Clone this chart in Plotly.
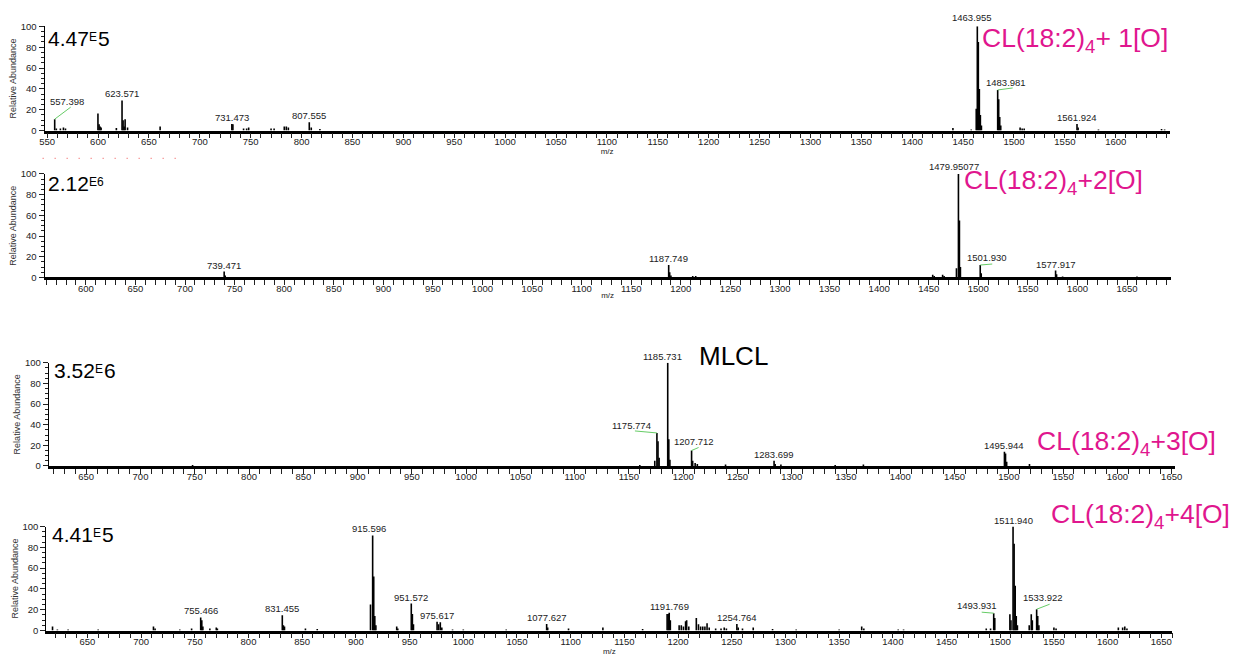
import plotly.graph_objects as go

W, H = 1249, 668

# ---------------- data (m/z, relative abundance) ----------------
p1_mz = [557.4, 559.0, 563.0, 566.0, 568.0, 599.9, 601.0, 602.0, 603.0, 618.0,
         623.57, 624.6, 625.6, 626.6, 629.0, 661.0, 731.47, 732.5, 743.0, 746.0,
         748.0, 770.0, 773.0, 783.0, 785.0, 787.0, 807.56, 809.5, 818.0, 1440.0,
         1458.0, 1462.9, 1463.96, 1464.96, 1465.96, 1466.96, 1468.0, 1483.98, 1484.98, 1485.98,
         1487.0, 1506.0, 1508.0, 1510.0, 1561.92, 1563.0, 1583.0, 1645.0, 1648.0]
p1_int = [11, 2, 2, 3, 2, 16.5, 6, 4, 3, 2.5,
          29, 10, 4, 11, 3, 4, 6.3, 6, 2, 2,
          3, 2, 2, 4, 4, 3, 8, 3, 1.5, 2.5,
          1, 21, 100, 85, 40, 15, 5, 39, 30, 13,
          5, 3, 2, 2, 6.3, 3, 1, 1.5, 1]
p1_labels = ["557.398", "623.571", "731.473", "807.555", "1463.955", "1483.981", "1561.924"]
p1_label_mz = [557.4, 623.57, 731.47, 807.56, 1463.96, 1483.98, 1561.92]

p2_mz = [739.47, 740.5, 1187.75, 1188.75, 1190.0, 1212.0, 1215.0, 1454.0, 1455.5, 1464.0,
         1465.5, 1477.95, 1479.95, 1480.95, 1481.95, 1501.93, 1502.93, 1577.92, 1578.92, 1585.0,
         1660.0]
p2_int = [5.7, 2, 12, 5, 2, 1.5, 1.5, 2.5, 1.5, 2.5,
          1.5, 9, 100, 55, 10, 12, 4, 6.6, 3, 1,
          1]
p2_labels = ["739.471", "1187.749", "1479.95077", "1501.930", "1577.917"]
p2_label_mz = [739.47, 1187.75, 1479.95, 1501.93, 1577.92]

p3_mz = [748.0, 1160.0, 1173.8, 1175.77, 1176.77, 1177.8, 1185.73, 1186.73, 1187.73, 1207.71,
         1208.71, 1211.0, 1213.0, 1239.0, 1283.70, 1284.7, 1290.0, 1340.0, 1366.0, 1495.94,
         1496.94, 1498.0, 1519.0]
p3_int = [1, 1, 5, 32, 24, 8, 100, 26, 6, 15,
          5, 3, 2, 1.5, 5, 2, 1.5, 1, 1.5, 13.7,
          12, 4, 2]
p3_labels = ["1175.774", "1185.731", "1207.712", "1283.699", "1495.944"]
p3_label_mz = [1175.77, 1185.73, 1207.71, 1283.70, 1495.94]

p4_mz = [617.5, 622.0, 632.0, 660.0, 711.5, 713.0, 736.0, 747.0, 755.47, 756.5,
         757.5, 764.0, 770.0, 771.0, 831.46, 832.5, 833.5, 853.0, 864.0, 913.6,
         915.6, 916.6, 917.6, 918.6, 938.0, 939.0, 951.57, 952.6, 953.6, 975.6,
         977.0, 978.6, 980.0, 990.0, 1000.0, 1040.0, 1077.63, 1078.6, 1098.0, 1130.0,
         1167.0, 1189.8, 1190.8, 1191.77, 1192.8, 1201.0, 1203.0, 1205.0, 1207.0, 1208.0,
         1210.0, 1217.0, 1219.0, 1221.0, 1223.0, 1225.0, 1227.0, 1229.0, 1235.0, 1240.0,
         1243.0, 1245.0, 1254.76, 1256.0, 1260.0, 1270.0, 1288.0, 1310.0, 1350.0, 1371.0,
         1373.0, 1405.0, 1410.0, 1487.0, 1491.0, 1493.93, 1494.93, 1509.0, 1510.0, 1511.94,
         1512.94, 1513.94, 1514.94, 1516.0, 1527.0, 1528.9, 1529.9, 1533.92, 1534.92, 1536.0,
         1550.0, 1552.0, 1610.0, 1614.0, 1616.0, 1618.0]
p4_int = [4, 1, 1, 1, 4, 2, 1, 2, 12.6, 10,
          4, 2, 3, 2, 14.8, 5, 4, 2, 1.5, 25,
          91.5, 52, 14, 5, 4, 2, 26, 16, 6, 8.5,
          6, 8, 3, 1, 1, 1, 6.3, 3, 2, 3,
          1.5, 16, 16, 17, 10, 5, 5, 4, 9, 10,
          4, 12, 6, 4, 4, 4, 7, 3, 2, 2,
          3, 2, 6.3, 3, 2, 3, 1.5, 1, 1, 4,
          2, 1, 1, 2, 2, 16.7, 12, 15.7, 10, 100,
          83.5, 43, 14, 5, 5, 15.7, 10, 20.5, 14, 5,
          3, 2, 3, 3, 4, 2]
p4_labels = ["755.466", "831.455", "915.596", "951.572", "975.617", "1077.627",
             "1191.769", "1254.764", "1493.931", "1511.940", "1533.922"]
p4_label_mz = [755.47, 831.46, 915.6, 951.57, 975.6, 1077.63,
               1191.77, 1254.76, 1493.93, 1511.94, 1533.92]

# normalisation levels: mantissa, small "E" part, trailing exponent part
scale_mantissa = ["4.47", "2.12", "3.52", "4.41"]
scale_small = ["E", "E6", "E", "E"]
scale_big = ["5", "", "6", "5"]
species_labels = ["CL(18:2)<sub>4</sub>+ 1[O]", "CL(18:2)<sub>4</sub>+2[O]",
                  "CL(18:2)<sub>4</sub>+3[O]", "CL(18:2)<sub>4</sub>+4[O]"]
x_tick_values = [list(range(550, 1601, 50)), list(range(600, 1651, 50)),
                 list(range(650, 1651, 50)), list(range(650, 1651, 50))]
y_tick_values = [0, 20, 40, 60, 80, 100]

for a, b in [(p1_mz, p1_int), (p2_mz, p2_int), (p3_mz, p3_int), (p4_mz, p4_int)]:
    assert len(a) == len(b)

# ---------------- layout / style ----------------
FONT = "Liberation Sans, Arial, Helvetica, sans-serif"
MAGENTA = "#E0168E"
GREEN = "#66CC66"

# pixel geometry per panel: x_left, x_right, y_top(100), y_bottom(0), x range
panels = [
    dict(xl=40, xr=1176, yt=20.7, yb=126.7, rng=[547.5, 1653], title=True),
    dict(xl=40, xr=1177, yt=170.7, yb=276, rng=[558.4, 1694], title=True),
    dict(xl=44.3, xr=1181.6, yt=362.7, yb=467.7, rng=[615.6, 1653.3], title=False),
    dict(xl=41.7, xr=1178.8, yt=529.3, yb=635, rng=[611.7, 1660.4], title=True),
]
data_sets = [(p1_mz, p1_int, p1_labels, p1_label_mz),
             (p2_mz, p2_int, p2_labels, p2_label_mz),
             (p3_mz, p3_int, p3_labels, p3_label_mz),
             (p4_mz, p4_int, p4_labels, p4_label_mz)]

label_shift = {
    "557.398": (12, 11), "1483.981": (8, 1), "1501.930": (7, 1),
    "1175.774": (-25, 1), "1207.712": (2, 3), "1493.931": (-17, 1),
    "1533.922": (6, 5), "915.596": (-4, 0), "1185.731": (-5, 0),
    "1463.955": (-5, 2), "1479.95077": (-4, 1),
}
green_lines = {
    "557.398": (16, 12), "1483.981": (15, 2), "1501.930": (12, 1),
    "1175.774": (-22, 2), "1207.712": (7, 3), "1493.931": (-12, 1),
    "1533.922": (13, 5),
}

# left edge and cap-top (px) of the normalisation level text
scale_pos = [(43, 27), (43, 175), (49.5, 365), (47, 531.7)]
species_pos = [(985, 27.5), (967, 171.7), (1041, 436.7), (1055, 511.7)]

BIG, SMALL = 21, 12
CHAR_W = {"E": 0.667, ".": 0.278}


def text_w(s, fs):
    return sum(CHAR_W.get(c, 0.556) for c in s) * fs


def px_x(p):
    return p / W


def px_y(p):
    return 1 - p / H


def peak_height(mz_list, int_list, m):
    best = 0
    for a, b in zip(mz_list, int_list):
        if abs(a - m) < 0.6:
            best = max(best, b)
    return best


def text_ann(left, cap_top, text, fs, color):
    return dict(x=px_x(left), y=px_y(cap_top - 0.28 * fs), xref="paper", yref="paper",
                text=text, showarrow=False, xanchor="left", yanchor="top",
                font=dict(family=FONT, size=fs, color=color), borderpad=0, borderwidth=0)


fig = go.Figure()
annotations = []
shapes = []

for i, (pan, (mz, inten, labs, lab_mz)) in enumerate(zip(panels, data_sets)):
    n = "" if i == 0 else str(i + 1)
    xs, ys = [], []
    for m, h in zip(mz, inten):
        xs += [m, m, None]
        ys += [0, h, None]
    fig.add_trace(go.Scatter(x=xs, y=ys, mode="lines",
                             line=dict(color="black", width=1.6),
                             xaxis="x" + n, yaxis="y" + n,
                             showlegend=False, hoverinfo="skip"))

    tickfont = dict(family=FONT, size=9.5, color="#222")
    fig.update_layout(**{
        "xaxis" + n: dict(
            domain=[px_x(pan["xl"]), px_x(pan["xr"])],
            anchor="y" + n, range=pan["rng"],
            showline=True, linecolor="black", linewidth=2.5,
            ticks="outside", ticklen=5, tickwidth=1, tickcolor="#222",
            tickmode="array", tickvals=x_tick_values[i], tickfont=tickfont,
            ticklabelstandoff=-5,
            minor=dict(dtick=10, tick0=0, ticks="outside", ticklen=5,
                       tickwidth=1, tickcolor="#222"),
            showgrid=False, zeroline=False, fixedrange=True,
            title=dict(text="m/z" if pan["title"] else "",
                       font=dict(family=FONT, size=8, color="#222"), standoff=0),
        ),
        "yaxis" + n: dict(
            domain=[px_y(pan["yb"]), px_y(pan["yt"])],
            anchor="x" + n, range=[0, 100],
            showline=True, linecolor="black", linewidth=1.2,
            ticks="outside", ticklen=5, tickwidth=1, tickcolor="#222",
            tickmode="array", tickvals=y_tick_values, tickfont=tickfont,
            minor=dict(dtick=5, tick0=0, ticks="outside", ticklen=3,
                       tickwidth=1, tickcolor="#222"),
            showgrid=False, zeroline=False, fixedrange=True,
            title=dict(text="Relative Abundance",
                       font=dict(family=FONT, size=9, color="#333"), standoff=2),
        ),
    })

    for t, m in zip(labs, lab_mz):
        h = peak_height(mz, inten, m)
        dx, dy = label_shift.get(t, (0, 0))
        annotations.append(dict(
            x=m, y=h, xref="x" + n, yref="y" + n, text=t, showarrow=False,
            xanchor="center", yanchor="bottom", xshift=dx, yshift=dy,
            font=dict(family=FONT, size=9.5, color="#222"), borderpad=0))
        if t in green_lines:
            gx, gy = green_lines[t]
            shapes.append(dict(
                type="line", xref="x" + n, yref="y" + n,
                xsizemode="pixel", ysizemode="pixel", xanchor=m, yanchor=h,
                x0=0, y0=0, x1=gx, y1=gy,
                line=dict(color=GREEN, width=1)))

    # normalisation level, e.g. 4.47 E 5
    sx, sy = scale_pos[i]
    annotations.append(text_ann(sx, sy, scale_mantissa[i], BIG, "black"))
    ex = sx + text_w(scale_mantissa[i], BIG) + 0.5
    annotations.append(text_ann(ex, sy + 0.5, scale_small[i], SMALL, "black"))
    if scale_big[i]:
        bx = ex + text_w(scale_small[i], SMALL) + 1.5
        annotations.append(text_ann(bx, sy, scale_big[i], BIG, "black"))

    cx, cy = species_pos[i]
    annotations.append(dict(
        x=px_x(cx), y=px_y(cy - 11), xref="paper", yref="paper",
        text=species_labels[i], showarrow=False, xanchor="left", yanchor="top",
        font=dict(family=FONT, size=26.5, color=MAGENTA), borderpad=0))

annotations.append(text_ann(701, 348.3, "MLCL", 26, "black"))

# faint red dotted artefact under panel 1
shapes.append(dict(type="line", xref="paper", yref="paper",
                   x0=px_x(38), x1=px_x(183), y0=px_y(155), y1=px_y(155),
                   line=dict(color="#F27070", width=1.2, dash="1px,11px")))

fig.update_layout(
    width=W, height=H,
    margin=dict(l=0, r=0, t=0, b=0),
    paper_bgcolor="white", plot_bgcolor="white",
    annotations=annotations, shapes=shapes,
    font=dict(family=FONT),
)

fig.write_html("out.html")
